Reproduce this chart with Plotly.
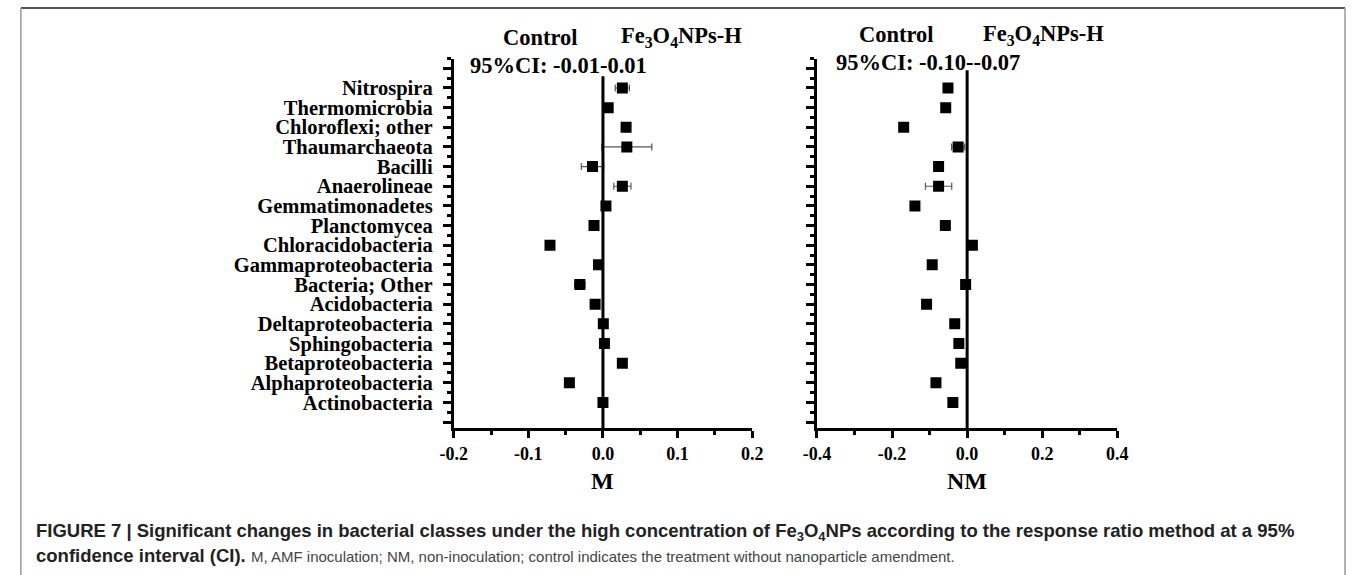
import plotly.graph_objects as go

# ---------------- data ----------------
categories = ["Nitrospira", "Thermomicrobia", "Chloroflexi; other", "Thaumarchaeota",
              "Bacilli", "Anaerolineae", "Gemmatimonadetes", "Planctomycea",
              "Chloracidobacteria", "Gammaproteobacteria", "Bacteria; Other",
              "Acidobacteria", "Deltaproteobacteria", "Sphingobacteria",
              "Betaproteobacteria", "Alphaproteobacteria", "Actinobacteria"]
m_values = [0.026, 0.007, 0.031, 0.032, -0.014, 0.026, 0.004, -0.012, -0.071,
            -0.006, -0.031, -0.0105, 0.0005, 0.002, 0.026, -0.045, 0.0]
m_errors = [0.0095, 0, 0, 0.0335, 0.015, 0.0115, 0, 0, 0, 0, 0.007, 0, 0, 0, 0, 0, 0]
nm_values = [-0.051, -0.057, -0.169, -0.024, -0.076, -0.076, -0.139, -0.058, 0.014,
             -0.093, -0.004, -0.108, -0.033, -0.022, -0.017, -0.083, -0.038]
nm_errors = [0, 0, 0, 0.0175, 0, 0.035, 0, 0, 0, 0, 0, 0, 0, 0, 0.004, 0, 0]

m_ticks = [-0.2, -0.1, 0.0, 0.1, 0.2]
m_ticktext = ["-0.2", "-0.1", "0.0", "0.1", "0.2"]
nm_ticks = [-0.4, -0.2, 0.0, 0.2, 0.4]
nm_ticktext = ["-0.4", "-0.2", "0.0", "0.2", "0.4"]

m_ci = "95%CI: -0.01-0.01"
nm_ci = "95%CI: -0.10--0.07"
zero_line_top = {"M": 17.6, "NM": 17.9}

# ---------------- layout helpers ----------------
W, H = 1358, 575
def px(x):
    return x / W
def py(y):
    return 1 - y / H

n = len(categories)
positions = [n - i for i in range(n)]          # Nitrospira at top
y_range = [-0.3, n + 1.5]
serif = "Liberation Serif, Times New Roman, serif"
sans = "Liberation Sans, Arial, Helvetica, sans-serif"

fig = go.Figure()

def add_panel(values, errors, xa, ya):
    fig.add_trace(go.Scatter(
        x=values, y=positions, mode="markers", xaxis=xa, yaxis=ya,
        marker=dict(symbol="square", size=11, color="black"),
        error_x=dict(type="data", array=errors, visible=True,
                     color="#555555", thickness=1.2, width=3.5),
        showlegend=False, hoverinfo="x+y"))

add_panel(m_values, m_errors, "x", "y")
add_panel(nm_values, nm_errors, "x2", "y2")

ydom = [py(428), py(58.5)]
common_y = dict(range=y_range, domain=ydom, showgrid=False, zeroline=False,
                showline=True, linewidth=3, linecolor="black",
                ticks="outside", ticklen=8, tickwidth=2.5, tickcolor="black",
                tickmode="array", tickvals=list(range(0, n + 2)),
                minor=dict(tickmode="linear", tick0=0.5, dtick=1, ticks="outside",
                           ticklen=4, tickwidth=2.5, tickcolor="black"))
common_x = dict(showgrid=False, zeroline=False, showline=True, linewidth=3,
                linecolor="black", ticks="outside", ticklen=7, tickwidth=2.5,
                tickcolor="black", tickmode="array",
                tickfont=dict(family=serif, size=18, color="black", weight="bold"))

labels_bottom_up = [""] + categories[::-1] + [""]

fig.update_layout(
    width=W, height=H, margin=dict(l=0, r=0, t=0, b=0),
    paper_bgcolor="white", plot_bgcolor="white",
    xaxis=dict(common_x, domain=[px(448), px(752)], range=[-0.2, 0.2],
               tickvals=m_ticks, ticktext=m_ticktext, anchor="y",
               minor=dict(tickmode="linear", tick0=0.05, dtick=0.1, ticks="outside",
                          ticklen=4, tickwidth=2.5, tickcolor="black")),
    yaxis=dict(common_y, anchor="x", ticktext=labels_bottom_up, ticklabelstandoff=6,
               tickfont=dict(family=serif, size=20.5, color="black", weight="bold")),
    xaxis2=dict(common_x, domain=[px(818), px(1124)], range=[-0.4, 0.4],
                tickvals=nm_ticks, ticktext=nm_ticktext, anchor="y2",
                minor=dict(tickmode="linear", tick0=0.1, dtick=0.2, ticks="outside",
                           ticklen=4, tickwidth=2.5, tickcolor="black")),
    yaxis2=dict(common_y, anchor="x2", ticktext=[""] * (n + 2), showticklabels=False),
)

# zero reference lines
fig.add_shape(type="line", xref="x", yref="y", x0=0, x1=0, y0=y_range[0],
              y1=zero_line_top["M"], line=dict(color="black", width=3))
fig.add_shape(type="line", xref="x2", yref="y2", x0=0, x1=0, y0=y_range[0],
              y1=zero_line_top["NM"], line=dict(color="black", width=3))

# frame
fig.add_shape(type="line", xref="paper", yref="paper", x0=px(7), x1=px(1356),
              y0=py(8), y1=py(8), line=dict(color="#555555", width=2))
fig.add_shape(type="line", xref="paper", yref="paper", x0=px(7), x1=px(7),
              y0=py(8), y1=0, line=dict(color="#999999", width=1.5))
fig.add_shape(type="line", xref="paper", yref="paper", x0=px(1356), x1=px(1356),
              y0=py(8), y1=0, line=dict(color="#999999", width=1.5))

def note(text, x, y, size, family=serif, color="black", xanchor="center"):
    fig.add_annotation(text=text, x=px(x), y=py(y), xref="paper", yref="paper",
                       showarrow=False, xanchor=xanchor, yanchor="middle",
                       borderpad=0,
                       font=dict(family=family, size=size, color=color))

fe = "Fe<sub>3</sub>O<sub>4</sub>NPs-H"
note("<b>Control</b>", 536, 37, 22.5)
note("<b>" + fe + "</b>", 680, 37, 22.5)
note("<b>" + m_ci + "</b>", 555, 65, 22.5)
note("<b>Control</b>", 899, 35, 22.5)
note("<b>" + fe + "</b>", 1049, 35, 22.5)
note("<b>" + nm_ci + "</b>", 931, 62, 22.5)
note("<b>M</b>", 600, 481, 24)
note("<b>NM</b>", 971, 481, 24)

cap1 = ("<b>FIGURE 7 | Significant changes in bacterial classes under the high "
        "concentration of Fe<sub>3</sub>O<sub>4</sub>NPs according to the response "
        "ratio method at a 95%</b>")
cap2a = "<b>confidence interval (CI).</b>"
cap2b = ("M, AMF inoculation; NM, non-inoculation; control indicates the treatment "
         "without nanoparticle amendment.")
note(cap1, 21, 532, 18.5, family=sans, color="#222222", xanchor="left")
note(cap2a, 21, 555, 18.5, family=sans, color="#222222", xanchor="left")
note(cap2b, 240, 556, 15, family=sans, color="#444444", xanchor="left")

fig.write_html("out.html")
